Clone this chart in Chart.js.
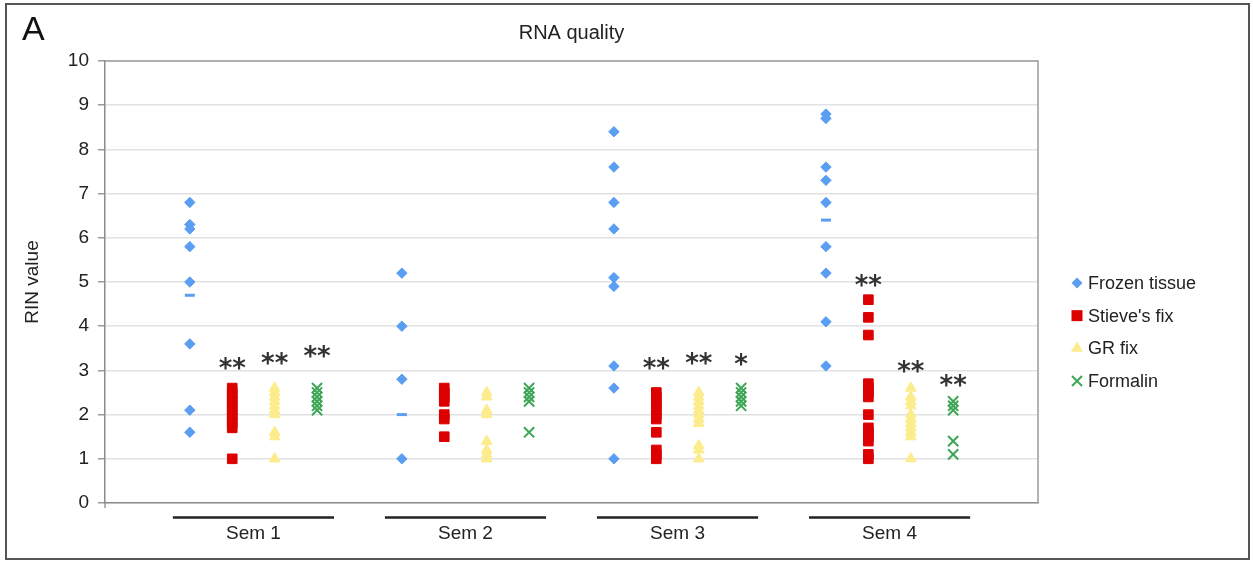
<!DOCTYPE html>
<html>
<head>
<meta charset="utf-8">
<script src="https://cdn.jsdelivr.net/npm/chart.js@4.4.1/dist/chart.umd.min.js"></script>
<style>
html,body{margin:0;padding:0;background:#fff;}
#wrap{width:1253px;height:561px;position:relative;}
</style>
</head>
<body>
<div id="wrap"><canvas id="c"></canvas></div>
<script>
// ---------------- data ----------------
const categories = ['Sem 1', 'Sem 2', 'Sem 3', 'Sem 4'];
const seriesNames = ['Frozen tissue', "Stieve's fix", 'GR fix', 'Formalin'];

const frozenTissue = [
  [6.8, 6.3, 6.2, 5.8, 5.0, 3.6, 2.1, 1.6],
  [5.2, 4.0, 2.8, 1.0],
  [8.4, 7.6, 6.8, 6.2, 5.1, 4.9, 3.1, 2.6, 1.0],
  [8.8, 8.7, 7.6, 7.3, 6.8, 5.8, 5.2, 4.1, 3.1]
];
const frozenMean = [4.7, 2.0, null, 6.4];

const stievesFix = [
  [2.6, 2.5, 2.4, 2.3, 2.2, 2.1, 2.0, 1.9, 1.8, 1.7, 1.0],
  [2.6, 2.5, 2.4, 2.3, 2.0, 1.9, 1.5],
  [2.5, 2.4, 2.3, 2.2, 2.1, 2.0, 1.9, 1.6, 1.2, 1.1, 1.0],
  [4.6, 4.2, 3.8, 2.7, 2.6, 2.5, 2.4, 2.0, 1.7, 1.6, 1.5, 1.4, 1.1, 1.0]
];
const grFix = [
  [2.6, 2.5, 2.4, 2.3, 2.2, 2.1, 2.0, 1.6, 1.5, 1.0],
  [2.5, 2.4, 2.1, 2.0, 1.4, 1.2, 1.1, 1.0],
  [2.5, 2.4, 2.3, 2.2, 2.1, 2.0, 1.9, 1.8, 1.3, 1.2, 1.0],
  [2.6, 2.4, 2.3, 2.2, 2.0, 1.9, 1.8, 1.7, 1.6, 1.5, 1.0]
];
const formalin = [
  [2.6, 2.5, 2.4, 2.3, 2.2, 2.1],
  [2.6, 2.5, 2.4, 2.3, 1.6],
  [2.6, 2.5, 2.4, 2.3, 2.2],
  [2.3, 2.2, 2.1, 1.4, 1.1]
];

// significance marks (text) and the RIN level where they sit
const stievesSig = ['**', '', '**', '**'];
const stievesSigAt = [3.15, null, 3.15, 5.03];
const grSig = ['**', '', '**', '**'];
const grSigAt = [3.27, null, 3.27, 3.08];
const formalinSig = ['**', '', '*', '**'];
const formalinSigAt = [3.42, null, 3.24, 2.78];

const yTickValues = [0, 1, 2, 3, 4, 5, 6, 7, 8, 9, 10];

// ---------------- build ----------------
const FONT = "'Liberation Sans', Arial, Helvetica, sans-serif";
Chart.defaults.font.family = FONT;
Chart.defaults.color = '#222';

const seriesOffset = [0, 0.2, 0.4, 0.6];   // position of each series inside a group
const groupCenter = 0.3;
const colors = ['#5a9ef2', '#dc0000', '#fcec8c', '#3da656'];
const styles = ['rectRot', 'rect', 'triangle', 'crossRot'];
const radii = [5.2, 6.8, 6.2, 7.2];

function toPoints(groups, s) {
  const pts = [];
  groups.forEach((vals, g) => vals.forEach(v => {
    if (v !== null) pts.push({x: g + 1 + seriesOffset[s], y: v});
  }));
  return pts;
}

const allSeries = [frozenTissue, stievesFix, grFix, formalin];
const datasets = allSeries.map((groups, s) => ({
  label: seriesNames[s],
  data: toPoints(groups, s),
  pointStyle: styles[s],
  pointRadius: radii[s],
  pointHoverRadius: radii[s],
  backgroundColor: colors[s],
  borderColor: colors[s],
  borderWidth: s === 3 ? 2 : 1,
  inLegend: true
}));
datasets.push({
  label: 'Frozen tissue mean',
  data: toPoints(frozenMean.map(v => [v]), 0),
  pointStyle: 'line',
  pointRadius: 5,
  pointHoverRadius: 5,
  borderColor: colors[0],
  backgroundColor: colors[0],
  borderWidth: 3,
  inLegend: false
});

const sigSets = [
  {s: 1, text: stievesSig, at: stievesSigAt},
  {s: 2, text: grSig, at: grSigAt},
  {s: 3, text: formalinSig, at: formalinSigAt}
];

function marker(ctx, style, x, y, r, color, lw) {
  ctx.save();
  ctx.fillStyle = color; ctx.strokeStyle = color; ctx.lineWidth = lw;
  ctx.beginPath();
  if (style === 'rectRot') {
    ctx.moveTo(x - r, y); ctx.lineTo(x, y - r); ctx.lineTo(x + r, y); ctx.lineTo(x, y + r); ctx.closePath(); ctx.fill();
  } else if (style === 'rect') {
    ctx.rect(x - r, y - r, 2 * r, 2 * r); ctx.fill();
  } else if (style === 'triangle') {
    ctx.moveTo(x, y - r); ctx.lineTo(x + r * 0.866, y + r * 0.5); ctx.lineTo(x - r * 0.866, y + r * 0.5); ctx.closePath(); ctx.fill();
  } else {
    ctx.moveTo(x - r, y - r); ctx.lineTo(x + r, y + r); ctx.moveTo(x + r, y - r); ctx.lineTo(x - r, y + r); ctx.stroke();
  }
  ctx.restore();
}

const framePlugin = {
  id: 'frame',
  beforeDraw(chart) {
    const ctx = chart.ctx;
    ctx.save();
    ctx.fillStyle = '#fff';
    ctx.fillRect(0, 0, chart.width, chart.height);
    ctx.strokeStyle = '#555';
    ctx.lineWidth = 2;
    ctx.strokeRect(6, 4, chart.width - 10, chart.height - 6);
    ctx.restore();
  }
};

const decorPlugin = {
  id: 'decor',
  afterDraw(chart) {
    const ctx = chart.ctx;
    const a = chart.chartArea;
    const xs = chart.scales.x, ys = chart.scales.y;
    ctx.save();
    // plot box top/right
    ctx.strokeStyle = '#9a9a9a';
    ctx.lineWidth = 1.5;
    ctx.beginPath();
    ctx.moveTo(a.left, a.top); ctx.lineTo(a.right, a.top); ctx.lineTo(a.right, a.bottom);
    ctx.stroke();
    // small tick below the axis corner
    ctx.beginPath(); ctx.moveTo(a.left, a.bottom); ctx.lineTo(a.left, a.bottom + 5); ctx.stroke();
    // group underlines
    ctx.strokeStyle = '#222';
    ctx.lineWidth = 2.5;
    categories.forEach((c, g) => {
      const x1 = xs.getPixelForValue(g + 1 - 0.08);
      const x2 = xs.getPixelForValue(g + 1 + 0.68);
      const y = xs.top + 14.5;
      ctx.beginPath(); ctx.moveTo(x1, y); ctx.lineTo(x2, y); ctx.stroke();
    });
    // significance asterisks
    ctx.fillStyle = '#333';
    ctx.font = "bold 26px 'DejaVu Sans', sans-serif";
    ctx.textAlign = 'center';
    ctx.textBaseline = 'alphabetic';
    sigSets.forEach(set => {
      set.text.forEach((t, g) => {
        if (!t || set.at[g] === null) return;
        const x = xs.getPixelForValue(g + 1 + seriesOffset[set.s]);
        const y = ys.getPixelForValue(set.at[g]);
        const m = ctx.measureText(t);
        const base = y + (m.actualBoundingBoxAscent - m.actualBoundingBoxDescent) / 2;
        ctx.fillText(t, x, base);
      });
    });
    // legend
    const items = chart.data.datasets.filter(d => d.inLegend);
    const midY = (a.top + a.bottom) / 2 + 50;
    const legendR = {rectRot: 5.5, rect: 5.5, triangle: 7, crossRot: 5};
    ctx.font = '18px ' + FONT;
    ctx.textAlign = 'left';
    ctx.textBaseline = 'middle';
    items.forEach((d, i) => {
      const y = midY + (i - 1.5) * 32.7;
      const mx = a.right + 39;
      marker(ctx, d.pointStyle, mx, y, legendR[d.pointStyle], d.backgroundColor, 2);
      ctx.fillStyle = '#222';
      ctx.fillText(d.label, a.right + 50, y + 1);
    });
    // panel letter
    ctx.font = '34px ' + FONT;
    ctx.textBaseline = 'alphabetic';
    ctx.fillStyle = '#111';
    ctx.fillText('A', 22, 40);
    ctx.restore();
  }
};

new Chart(document.getElementById('c'), {
  type: 'scatter',
  data: {datasets},
  options: {
    responsive: true,
    maintainAspectRatio: false,
    animation: false,
    events: [],
    layout: {padding: {left: 8, top: 10, right: 215, bottom: 16}},
    plugins: {
      legend: {display: false},
      tooltip: {enabled: false},
      title: {
        display: true, text: 'RNA quality', fullSize: false, color: '#222',
        font: {size: 20, weight: 'normal'}, padding: {top: 11.5, bottom: 15.5}
      }
    },
    scales: {
      x: {
        type: 'linear', min: 0.6, max: 5.0,
        afterBuildTicks: s => { s.ticks = categories.map((c, i) => ({value: i + 1 + groupCenter})); },
        ticks: {autoSkip: false, maxRotation: 0, padding: 19.6, color: '#222', font: {size: 19},
                callback: (v, i) => categories[i]},
        grid: {display: false, drawTicks: false},
        border: {display: true, color: '#8c8c8c', width: 1.5},
        afterFit: s => { s.height = 42; }
      },
      y: {
        min: yTickValues[0], max: yTickValues[yTickValues.length - 1],
        afterBuildTicks: s => { s.ticks = yTickValues.map(v => ({value: v})); },
        ticks: {padding: 9, color: '#222', font: {size: 19}},
        grid: {color: '#e2e2e2', lineWidth: 1.5, tickLength: 7, tickColor: '#9a9a9a'},
        border: {color: '#8c8c8c', width: 1.5},
        title: {display: true, text: 'RIN value', color: '#222', font: {size: 19}, padding: {top: 13.6, bottom: 0}},
        afterFit: s => { s.width = 97; }
      }
    }
  },
  plugins: [framePlugin, decorPlugin]
});
</script>
</body>
</html>
